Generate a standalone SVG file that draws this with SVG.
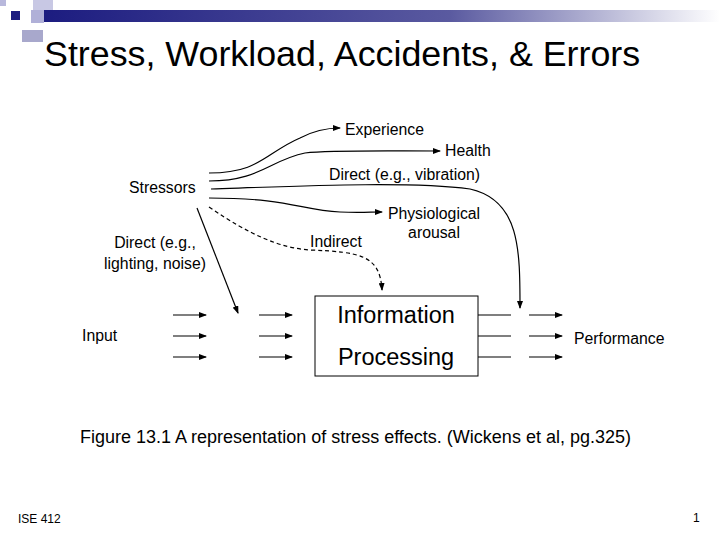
<svg xmlns="http://www.w3.org/2000/svg" width="720" height="540" viewBox="0 0 720 540">
<style>
text{font-family:"Liberation Sans",Arial,sans-serif;fill:#000}
.l{font-size:15.8px}
.c{stroke:#000;stroke-width:1.2;fill:none}
</style>
<defs>
<marker id="a" markerWidth="8" markerHeight="6" refX="7" refY="3" orient="auto" markerUnits="userSpaceOnUse"><path d="M0,0L8,3L0,6z" fill="#000"/></marker>
<linearGradient id="g" x1="0" x2="1"><stop offset="0" stop-color="#1c1c80"/><stop offset="0.6" stop-color="#5a5aa0"/><stop offset="1" stop-color="#fff"/></linearGradient>
</defs>
<rect width="720" height="540" fill="#fff"/>
<g id="deco">
<rect x="0" y="0" width="6" height="6" fill="#b8b8dc"/>
<rect x="33" y="0" width="20" height="10" fill="#c8c8e4"/>
<rect x="44" y="10" width="676" height="12" fill="url(#g)"/>
<rect x="11" y="11" width="9" height="9" fill="#1c1c80"/>
<rect x="31" y="10" width="13" height="13" fill="#b0b0d8"/>
<rect x="22" y="30" width="21" height="12" fill="#a8a8cc"/>
</g>
<text x="44" y="66" font-size="35.8">Stress, Workload, Accidents, &amp; Errors</text>
<g id="connectors">
<path class="c" marker-end="url(#a)" d="M209,173C260,173 265,153 300,138C315,130 330,128 340,128"/>
<path class="c" marker-end="url(#a)" d="M209,181C260,181 270,160 305,153C330,150 380,151 440,151"/>
<path class="c" marker-end="url(#a)" d="M211,189C300,186 410,181 470,189C520,200 520,250 520,308"/>
<path class="c" marker-end="url(#a)" d="M209,198C290,198 300,210 340,212C360,213 370,212 382,212"/>
<path class="c" stroke-dasharray="4,3" marker-end="url(#a)" d="M209,207C250,235 280,248 310,250C360,252 380,255 382,290"/>
<path class="c" marker-end="url(#a)" d="M197,208L238,313"/>
<path class="c" marker-end="url(#a)" d="M173,315H206"/>
<path class="c" marker-end="url(#a)" d="M173,336H206"/>
<path class="c" marker-end="url(#a)" d="M173,357H206"/>
<path class="c" marker-end="url(#a)" d="M259,315H292"/>
<path class="c" marker-end="url(#a)" d="M259,336H292"/>
<path class="c" marker-end="url(#a)" d="M259,357H292"/>
<path class="c" marker-end="url(#a)" d="M529,315H562"/>
<path class="c" marker-end="url(#a)" d="M529,336H562"/>
<path class="c" marker-end="url(#a)" d="M529,357H562"/>
<path class="c" stroke-width="0.8" d="M478,315H511M478,336H511M478,357H511"/>
</g>
<g id="ip"><rect x="315" y="296" width="163" height="80" fill="#fff" stroke="#000" stroke-width="1"/>
<text x="396" y="323" font-size="23.5" text-anchor="middle">Information</text>
<text x="396" y="365" font-size="23.5" text-anchor="middle">Processing</text></g>
<g id="labels">
<text class="l" x="345" y="135">Experience</text>
<text class="l" x="445" y="156">Health</text>
<text class="l" x="329" y="180">Direct (e.g., vibration)</text>
<text class="l" x="129" y="193">Stressors</text>
<text class="l" x="434" y="219" text-anchor="middle">Physiological</text>
<text class="l" x="434" y="238" text-anchor="middle">arousal</text>
<text class="l" x="310" y="247">Indirect</text>
<text class="l" x="155" y="248" text-anchor="middle">Direct (e.g.,</text>
<text class="l" x="155" y="269" text-anchor="middle">lighting, noise)</text>
<text class="l" x="82" y="341">Input</text>
<text class="l" x="574" y="344">Performance</text>
</g>
<text x="80" y="443" font-size="18">Figure 13.1 A representation of stress effects. (Wickens et al, pg.325)</text>
<text x="18" y="523" font-size="12">ISE 412</text>
<text x="693" y="522" font-size="12">1</text>
</svg>
